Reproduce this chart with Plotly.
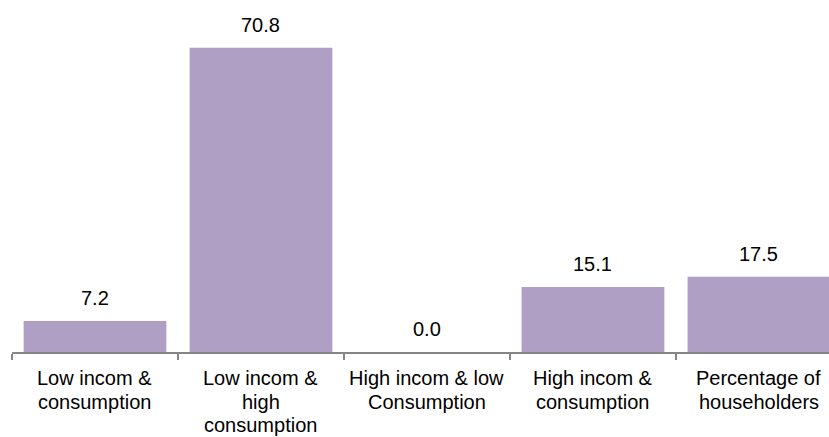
import plotly.graph_objects as go

# Share of households by income / consumption group
categories = [
    "Low incom &<br>consumption",
    "Low incom &<br>high<br>consumption",
    "High incom & low<br>Consumption",
    "High incom &<br>consumption",
    "Percentage of<br>householders",
]
values = [7.2, 70.8, 0.0, 15.1, 17.5]

BAR_COLOR = "#AF9FC5"
AXIS_COLOR = "#868686"
FONT = "Arial, Liberation Sans, sans-serif"

fig = go.Figure(
    go.Bar(
        x=categories,
        y=values,
        marker=dict(color=BAR_COLOR, line=dict(width=0)),
        hoverinfo="x+y",
    )
)

annotations = []
# value labels above each bar
for cat, v in zip(categories, values):
    annotations.append(dict(
        x=cat, y=v, xref="x", yref="y",
        text=f"{v:.1f}", showarrow=False,
        yanchor="middle", yshift=23,
        font=dict(family=FONT, size=20, color="#000000"),
    ))
# category labels below the axis, one line at a time
for cat in categories:
    for i, line in enumerate(cat.split("<br>")):
        annotations.append(dict(
            x=cat, y=0, xref="x", yref="y",
            text=line, showarrow=False,
            yanchor="middle", yshift=-(26 + i * 23.5),
            font=dict(family=FONT, size=20, color="#000000"),
        ))

fig.update_layout(
    width=829, height=437,
    margin=dict(l=12, r=0, t=0, b=85),
    paper_bgcolor="white", plot_bgcolor="white",
    bargap=0.14,
    showlegend=False,
    font=dict(family=FONT, size=20, color="#000000"),
    annotations=annotations,
    xaxis=dict(
        type="category",
        range=[-0.5, 4.422],
        showticklabels=False,
        showline=True, linecolor=AXIS_COLOR, linewidth=2,
        ticks="outside", tickson="boundaries",
        ticklen=6, tickwidth=1.5, tickcolor=AXIS_COLOR,
        showgrid=False, zeroline=False, fixedrange=True,
    ),
    yaxis=dict(
        range=[0, 81.9],
        visible=False, showgrid=False, zeroline=False, fixedrange=True,
    ),
)

fig.write_html("out.html")
